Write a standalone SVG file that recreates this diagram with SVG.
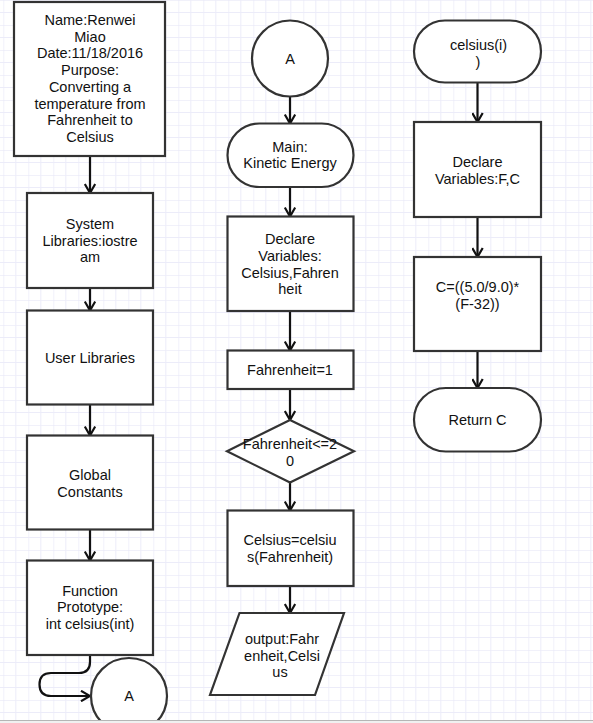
<svg xmlns="http://www.w3.org/2000/svg" width="593" height="723" viewBox="0 0 593 723">
<defs>
<pattern id="grid" x="3.3" y="0" width="25" height="25" patternUnits="userSpaceOnUse">
<path d="M0,0 V25 M0,0 H25" stroke="#e3e3f6" stroke-width="1" fill="none"/>
<path d="M12.5,0 V25 M0,12.5 H25" stroke="#ececf9" stroke-width="1" fill="none"/>
</pattern>
<marker id="ah" viewBox="0 0 12 12" refX="10.5" refY="6" markerWidth="12" markerHeight="12" markerUnits="userSpaceOnUse" orient="auto">
<path d="M1.5,0.8 L10.5,6 L1.5,11.2" fill="none" stroke="#111" stroke-width="2.2"/>
</marker>
<style>
.s{fill:#fff;stroke:#333;stroke-width:2.2}
.t{font-family:"Liberation Sans",Arial,sans-serif;font-size:14.5px;fill:#111;text-anchor:middle}
.c{fill:none;stroke:#111;stroke-width:2.2;marker-end:url(#ah)}
</style>
</defs>
<rect x="0" y="0" width="593" height="723" fill="#fff"/>
<rect x="0" y="0" width="593" height="723" fill="url(#grid)"/>

<g id="connectors">
<path class="c" d="M90,156 V193"/>
<path class="c" d="M90,288 V310.5"/>
<path class="c" d="M90,404.5 V435.5"/>
<path class="c" d="M90,529.5 V560.5"/>
<path class="c" d="M90,655 V662 Q90,673 79,673 H51 Q39.5,673 39.5,684.5 Q39.5,696 51,696 H90"/>
<path class="c" d="M290,96.5 V123.5"/>
<path class="c" d="M290,187 V216.5"/>
<path class="c" d="M290,311 V350.5"/>
<path class="c" d="M290,389 V420"/>
<path class="c" d="M290,482.5 V510.5"/>
<path class="c" d="M290,586 V613"/>
<path class="c" d="M477.5,82.5 V122"/>
<path class="c" d="M477.5,217 V257"/>
<path class="c" d="M477.5,351 V388"/>
</g>

<g id="header">
<rect class="s" x="14" y="2" width="151" height="154"/>
<text class="t"><tspan x="90" y="25">Name:Renwei</tspan><tspan x="90" y="41.7">Miao</tspan><tspan x="90" y="58.4">Date:11/18/2016</tspan><tspan x="90" y="75.1">Purpose:</tspan><tspan x="90" y="91.8">Converting a</tspan><tspan x="90" y="108.5">temperature from</tspan><tspan x="90" y="125.2">Fahrenheit to</tspan><tspan x="90" y="141.9">Celsius</tspan></text>
</g>

<g id="syslib">
<rect class="s" x="27" y="193" width="126" height="95"/>
<text class="t"><tspan x="90" y="229">System</tspan><tspan x="90" y="245.7">Libraries:iostre</tspan><tspan x="90" y="262.4">am</tspan></text>
</g>

<g id="userlib">
<rect class="s" x="27" y="310.5" width="126" height="94"/>
<text class="t" x="90" y="363">User Libraries</text>
</g>

<g id="globals">
<rect class="s" x="27" y="435.5" width="126" height="94"/>
<text class="t"><tspan x="90" y="480">Global</tspan><tspan x="90" y="496.7">Constants</tspan></text>
</g>

<g id="prototype">
<rect class="s" x="27" y="560.5" width="126" height="94.5"/>
<text class="t"><tspan x="90" y="595.7">Function</tspan><tspan x="90" y="612.4">Prototype:</tspan><tspan x="90" y="629.1">int celsius(int)</tspan></text>
</g>

<g id="connA1">
<circle class="s" cx="129" cy="696" r="38"/>
<text class="t" x="129" y="701">A</text>
</g>

<g id="connA2">
<circle class="s" cx="290" cy="58.5" r="38"/>
<text class="t" x="290" y="63.5">A</text>
</g>

<g id="main">
<rect class="s" x="227.5" y="123.5" width="126" height="63.5" rx="31.75" ry="31.75"/>
<text class="t"><tspan x="290" y="151.7">Main:</tspan><tspan x="290" y="168.4">Kinetic Energy</tspan></text>
</g>

<g id="declare1">
<rect class="s" x="227.5" y="216.5" width="126" height="94.5"/>
<text class="t"><tspan x="290" y="244.3">Declare</tspan><tspan x="290" y="261">Variables:</tspan><tspan x="290" y="277.7">Celsius,Fahren</tspan><tspan x="290" y="294.4">heit</tspan></text>
</g>

<g id="init">
<rect class="s" x="227.5" y="350.5" width="126" height="38.5"/>
<text class="t" x="290" y="375">Fahrenheit=1</text>
</g>

<g id="loop">
<polygon class="s" points="290,420 354,451.2 290,482.5 227,451.2"/>
<text class="t"><tspan x="290" y="449.3">Fahrenheit&lt;=2</tspan><tspan x="290" y="466">0</tspan></text>
</g>

<g id="call">
<rect class="s" x="227.5" y="510.5" width="126" height="75.5"/>
<text class="t"><tspan x="290" y="545">Celsius=celsiu</tspan><tspan x="290" y="561.7">s(Fahrenheit)</tspan></text>
</g>

<g id="output">
<polygon class="s" points="239.5,613 344,613 315,695 210,695"/>
<text class="t"><tspan x="282" y="644">output:Fahr</tspan><tspan x="282" y="660.7">enheit,Celsi</tspan><tspan x="280" y="677.4">us</tspan></text>
</g>

<g id="fstart">
<rect class="s" x="414" y="20.5" width="127" height="62" rx="31" ry="31"/>
<text class="t"><tspan x="478.5" y="50">celsius(i)</tspan><tspan x="478" y="66.7">)</tspan></text>
</g>

<g id="declare2">
<rect class="s" x="414" y="122" width="127" height="95"/>
<text class="t"><tspan x="477.5" y="167.3">Declare</tspan><tspan x="477.5" y="184">Variables:F,C</tspan></text>
</g>

<g id="formula">
<rect class="s" x="414" y="257" width="127" height="94"/>
<text class="t"><tspan x="477.5" y="292">C=((5.0/9.0)*</tspan><tspan x="477.5" y="308.7">(F-32))</tspan></text>
</g>

<g id="fend">
<rect class="s" x="414" y="388" width="127" height="63.5" rx="31.75" ry="31.75"/>
<text class="t" x="477.5" y="425">Return C</text>
</g>

<rect x="0" y="720" width="593" height="3" fill="#f0f0f0"/>
<path d="M0,720.5 H593" stroke="#b5b5b5" stroke-width="1"/>
</svg>
